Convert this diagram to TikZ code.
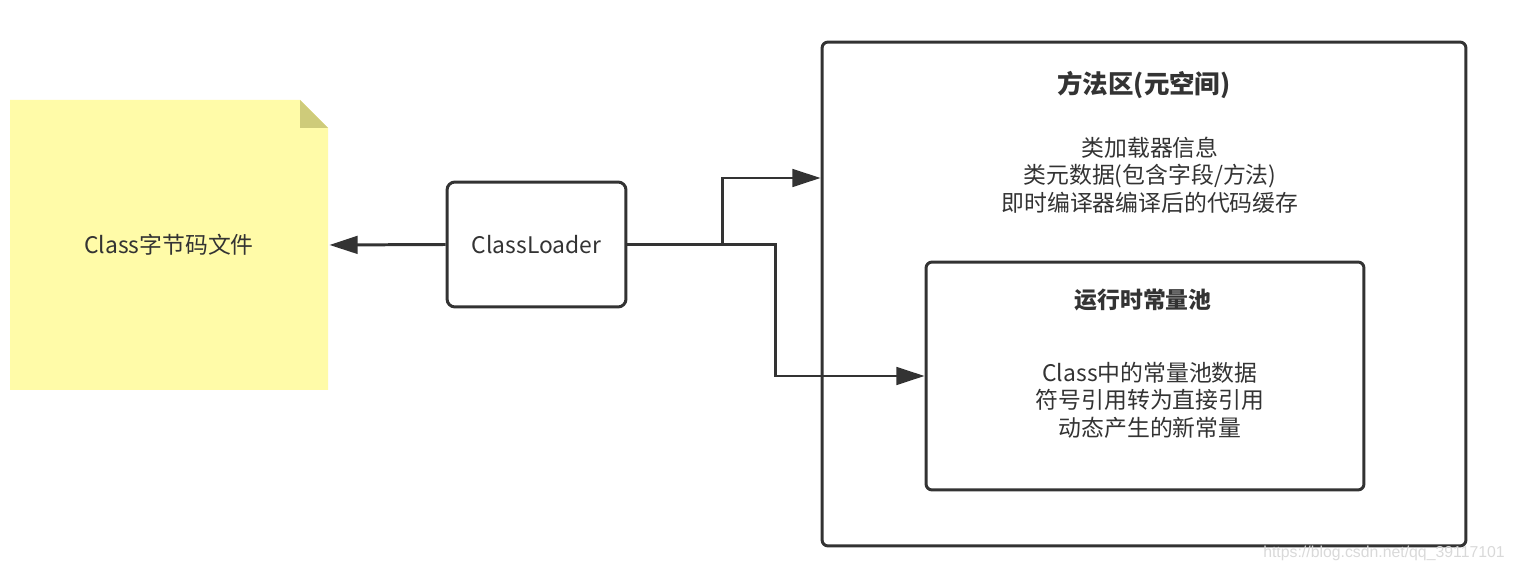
\documentclass[tikz,border=0pt]{standalone}
\usepackage{fontspec}
\setmainfont{Noto Sans CJK SC}
\newfontfamily\urlfont{Liberation Sans}
\usepackage{xcolor}
\usetikzlibrary{arrows.meta}
\definecolor{noteyellow}{RGB}{255, 251, 168}
\definecolor{notefold}{RGB}{206, 203, 122}
\definecolor{inkgray}{RGB}{51, 51, 51}

\begin{document}
\begin{tikzpicture}[x=0.02cm, y=-0.02cm, line width=1.7pt, draw=inkgray, text=inkgray,
    link/.style={draw=inkgray, -{Triangle[length=16pt, width=10pt]}}]
        \useasboundingbox (0,0) rectangle (1513,573);

        % Class file note
        \fill[noteyellow] (10,100) -- (300,100) -- (328,128) -- (328,390) -- (10,390) -- cycle;
        \fill[notefold] (300,100) -- (328,128) -- (300,128) -- cycle;
        \node[minimum width=6.36cm, minimum height=5.8cm, font=\fontsize{13}{16}\selectfont] (note) at (169,245) {Class字节码文件};

        % Class loader
        \node[draw, fill=white, minimum width=3.58cm, minimum height=2.5cm, rounded corners=0.16cm, font=\fontsize{13}{16}\selectfont] (loader) at (536.5,244.5) {ClassLoader};

        % Method area
        \node[draw, minimum width=12.88cm, minimum height=10.08cm, rounded corners=0.12cm] (mz) at (1144,294) {};
        \node[font=\fontsize{14.5}{17}\selectfont\bfseries] (mztitle) at (1144,85) {方法区(元空间)};
        \node[align=center, font=\fontsize{13}{15.6}\selectfont] (mzbody) at (1150,175) {类加载器信息\\类元数据(包含字段/方法)\\即时编译器编译后的代码缓存};

        % Runtime constant pool
        \node[draw, fill=white, minimum width=8.76cm, minimum height=4.56cm, rounded corners=0.12cm] (rcp) at (1145,376) {};
        \node[font=\fontsize{13}{16}\selectfont\bfseries] (rcptitle) at (1143,300) {运行时常量池};
        \node[align=center, font=\fontsize{13}{15.6}\selectfont] (rcpbody) at (1150,400) {Class中的常量池数据\\符号引用转为直接引用\\动态产生的新常量};

        % Connectors
        \draw[link] (loader.west) -- (note.east);
        \draw[link] (loader.east) -| (722,178) -- (mz.west |- 0,178);
        \draw[link] (loader.east) -| (775,376) -- (rcp.west);

        % Watermark
        \node[text=gray!30, font=\urlfont\fontsize{9}{11}\selectfont] (mark) at (1384,553) {https://blog.csdn.net/qq\_39117101};
    \end{tikzpicture}
\end{document}
